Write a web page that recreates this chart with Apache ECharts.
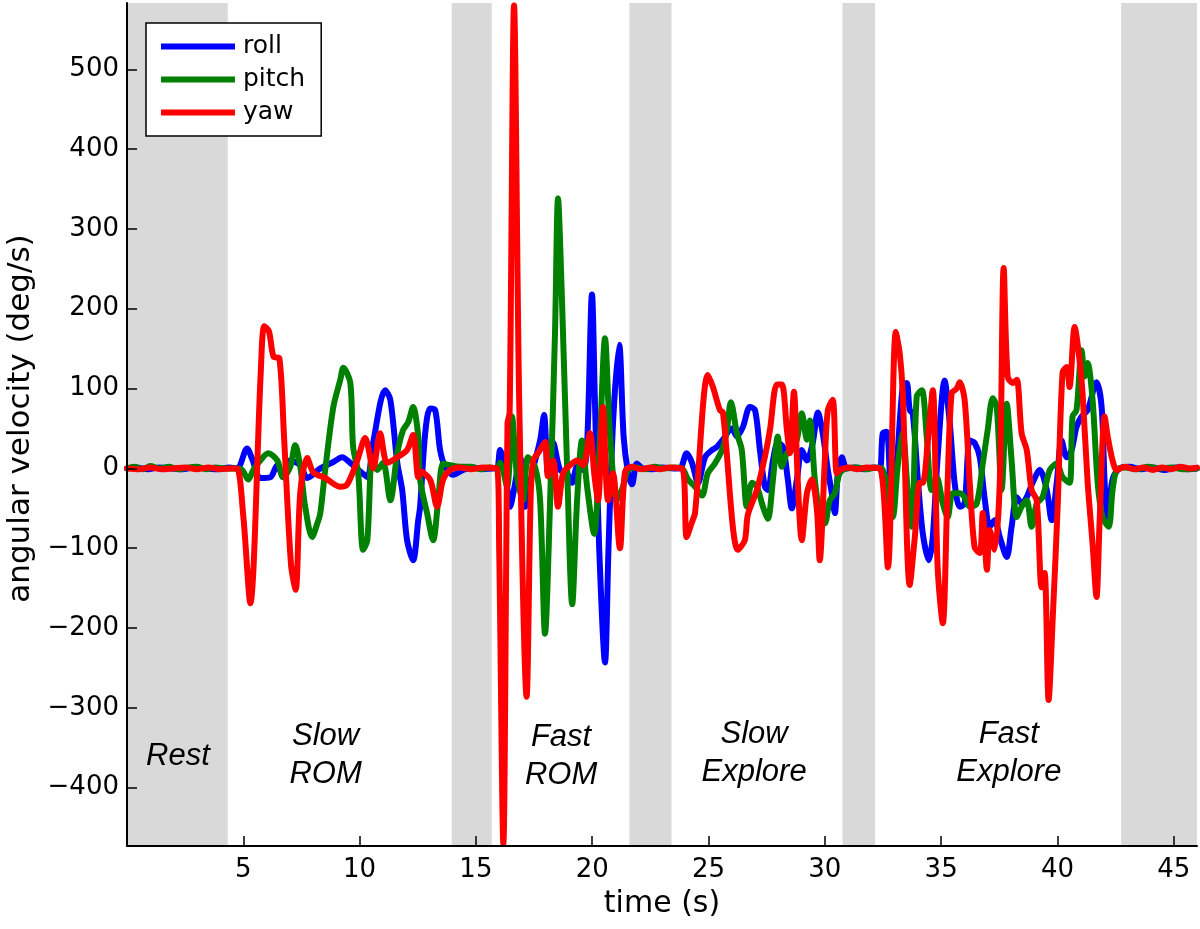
<!DOCTYPE html>
<html>
<head>
<meta charset="utf-8">
<script src="https://cdn.jsdelivr.net/npm/echarts@6/dist/echarts.min.js"></script>
<style>html,body{margin:0;padding:0;background:#fff;}#c{width:1200px;height:929px;}</style>
</head>
<body>
<div id="c"></div>
<script>
// ---- data ----
var seriesNames = ['roll', 'pitch', 'yaw'];
var xTicks = [5, 10, 15, 20, 25, 30, 35, 40, 45];
var yTicks = [-400, -300, -200, -100, 0, 100, 200, 300, 400, 500];
var restBands = [[0, 4.33], [13.96, 15.68], [21.6, 23.41], [30.76, 32.16], [42.74, 46]];
var phaseLabels = [
  [2.19, -361, 'Rest'],
  [8.54, -360, 'Slow\nROM'],
  [18.66, -361, 'Fast\nROM'],
  [26.96, -357, 'Slow\nExplore'],
  [37.91, -357, 'Fast\nExplore']
];

var roll = [
  [0,0],[0.4,1],[0.9,-1],[1.4,1],[1.9,0],[2.4,-1],[2.9,1],[3.4,0],[3.9,-1],[4.4,1],[4.74,0],
  [5.16,25],[5.39,11],[5.73,-12],[6.16,-11],[6.46,4],[6.72,-11],[7.02,10],[7.45,4],[7.75,-12],[8.31,0],
  [8.87,8],[9.25,14],[9.60,7],[10.03,-4],[10.33,-11],[10.58,32],[11.10,98],[11.32,86],[11.62,7],[11.83,-27],
  [12.04,-90],[12.30,-115],[12.52,-65],[12.60,-48],[12.82,44],[13.03,75],[13.25,73],[13.46,23],[13.68,2],
  [14.02,-8],[14.45,-2],[14.9,1],[15.3,-1],[15.74,0],
  [15.91,0],[16.04,23],[16.25,2],[16.47,-48],[16.66,-23],[16.90,14],[17.11,-48],[17.46,0],[17.76,35],[17.93,67],
  [18.10,-6],[18.32,32],[18.62,-2],[18.92,-6],[19.14,-18],[19.35,2],[19.61,-2],[19.78,30],[19.99,218],[20.12,80],
  [20.30,-100],[20.55,-243],[20.70,-100],[20.90,60],[21.16,155],[21.35,40],[21.54,-5],[21.71,-20],[21.92,6],[22.18,0],
  [22.6,-1],[23.0,1],[23.5,0],[23.77,0],
  [24.06,19],[24.29,7],[24.55,-18],[24.85,14],[25.15,23],[25.36,27],[25.62,36],[26.00,50],[26.22,40],[26.48,52],
  [26.78,77],[27.00,73],[27.21,23],[27.42,-23],[27.55,-27],[27.77,10],[27.98,32],[28.20,27],[28.41,-14],[28.58,-50],
  [28.80,-14],[29.01,23],[29.23,10],[29.48,32],[29.70,70],[29.91,44],[30.13,-2],[30.30,-31],[30.43,-56],[30.56,-6],
  [30.73,14],[30.94,0],[31.3,1],[31.7,-1],[32.1,1],[32.36,0],
  [32.49,44],[32.66,46],[32.88,-44],[33.09,6],[33.35,102],[33.52,107],[33.65,73],[33.78,69],[34.00,-14],[34.21,-81],
  [34.47,-115],[34.64,-86],[34.85,14],[35.15,110],[35.37,57],[35.58,-18],[35.80,-48],[36.01,-44],[36.23,35],[36.44,32],
  [36.66,14],[36.88,-40],[37.09,-73],[37.30,-65],[37.52,-86],[37.82,-111],[38.03,-73],[38.25,-36],[38.46,-44],[38.68,-36],
  [38.93,-18],[39.24,-2],[39.54,-27],[39.75,-65],[39.97,-18],[40.18,35],[40.40,14],[40.61,23],[40.82,52],[41.04,65],
  [41.30,73],[41.68,108],[41.90,77],[42.03,-18],[42.16,-61],[42.37,-14],[42.68,0],
  [43.1,2],[43.6,-1],[44.1,1],[44.6,-2],[45.1,1],[45.6,-1],[46,0]
];

var pitch = [
  [0,0],[0.3,2],[0.7,-1],[1.0,3],[1.4,0],[1.8,2],[2.2,-1],[2.6,1],[3.0,2],[3.4,-1],[3.8,1],[4.2,0],[4.74,0],
  [4.96,-2],[5.21,-14],[5.43,-2],[5.73,10],[6.07,19],[6.46,10],[6.72,-11],[7.02,2],[7.23,29],[7.45,2],[7.66,-48],
  [7.96,-86],[8.18,-69],[8.31,-56],[8.52,-2],[8.87,77],[9.17,111],[9.30,126],[9.60,107],[9.72,27],[9.94,-6],
  [10.15,-102],[10.33,-90],[10.54,14],[10.76,-2],[11.01,7],[11.32,-40],[11.62,19],[11.87,48],[12.09,58],[12.30,77],
  [12.52,40],[12.60,-14],[12.90,-56],[13.16,-90],[13.38,-40],[13.59,6],[13.89,4],[14.3,2],[14.75,2],[15.2,-1],
  [15.6,1],[15.91,0],
  [16.04,7],[16.34,-23],[16.55,65],[16.77,-11],[17.03,-40],[17.24,14],[17.54,2],[17.76,-40],[17.97,-207],[18.19,-40],
  [18.40,169],[18.53,338],[18.70,211],[18.92,2],[19.14,-170],[19.35,-40],[19.56,35],[19.78,-23],[20.08,-82],[20.34,44],
  [20.55,163],[20.76,44],[21.07,-40],[21.32,-23],[21.54,-2],[21.9,1],[22.3,-1],[22.7,2],[23.1,0],[23.5,1],[23.86,0],
  [24.12,-14],[24.42,-23],[24.72,-34],[24.97,-6],[25.27,6],[25.58,23],[25.79,48],[25.96,83],[26.22,44],[26.43,23],
  [26.65,-48],[26.87,-18],[27.08,-23],[27.34,-48],[27.55,-63],[27.77,-14],[27.98,40],[28.15,2],[28.37,19],[28.58,23],
  [28.80,36],[29.01,69],[29.23,36],[29.36,60],[29.57,-14],[29.78,-56],[30.00,-69],[30.21,-40],[30.43,-31],[30.64,-6],
  [30.94,0],[31.4,1],[31.8,-1],[32.2,1],[32.45,0],
  [32.66,-18],[32.92,-61],[33.13,2],[33.35,44],[33.56,-27],[33.74,-73],[33.95,90],[34.17,98],[34.38,40],[34.59,-27],
  [34.81,-11],[35.07,-44],[35.28,-61],[35.50,-31],[35.80,-31],[36.01,-36],[36.23,-48],[36.53,-44],[36.79,6],[37.00,48],
  [37.22,88],[37.39,77],[37.60,-27],[37.82,81],[38.03,10],[38.25,-61],[38.46,-48],[38.68,-40],[38.89,-73],[39.11,-44],
  [39.36,-36],[39.67,-2],[39.97,6],[40.22,-11],[40.52,-18],[40.65,65],[40.82,73],[41.04,148],[41.17,115],[41.30,132],
  [41.51,86],[41.73,-18],[41.94,-61],[42.20,-73],[42.37,-27],[42.55,-2],
  [42.9,1],[43.4,-1],[43.9,2],[44.4,0],[44.9,1],[45.4,-1],[46,0]
];

var yaw = [
  [0,0],[0.5,-1],[1.0,1],[1.5,-1],[2.0,0],[2.5,1],[3.0,-1],[3.5,1],[4.0,-1],[4.5,0],[4.73,0],
  [5.0,-60],[5.30,-169],[5.75,120],[5.90,178],[6.10,172],[6.30,140],[6.55,138],[6.75,40],[7.05,-120],[7.25,-152],
  [7.45,-30],[7.75,13],[8.01,-5],[8.52,-12],[9.17,-23],[9.47,-20],[9.90,10],[10.24,38],[10.58,0],[10.88,44],
  [11.19,7],[11.62,14],[12.04,23],[12.30,42],[12.52,-11],[12.60,-4],[13.03,-14],[13.33,-48],[13.59,-14],[13.89,-2],
  [14.3,1],[14.8,-1],[15.3,1],[15.91,0],
  [16.00,-100],[16.18,-470],[16.36,57],[16.45,70],[16.64,580],[16.86,86],[17.18,-286],[17.35,-40],[17.46,10],[17.67,19],
  [17.97,33],[18.10,-10],[18.32,10],[18.53,-48],[18.75,-6],[19.05,4],[19.35,10],[19.61,4],[19.90,44],[20.10,-10],
  [20.25,-40],[20.46,77],[20.68,-40],[20.89,-6],[21.19,-100],[21.41,-4],[21.7,2],[22.1,-1],[22.5,1],[22.9,-1],
  [23.3,1],[23.86,0],
  [24.06,-86],[24.29,-67],[24.42,-56],[24.97,117],[25.19,102],[25.49,73],[25.62,70],[26.26,-102],[26.56,-90],[26.69,-58],
  [27.08,-27],[27.42,14],[27.64,48],[27.94,105],[28.15,105],[28.37,48],[28.50,19],[28.67,96],[28.84,-18],[29.01,-90],
  [29.23,-31],[29.44,-14],[29.66,-52],[29.78,-115],[30.00,10],[30.13,73],[30.34,86],[30.51,-6],[30.64,-2],[31.0,1],
  [31.4,-1],[31.8,1],[32.36,0],
  [32.71,-124],[33.05,171],[33.22,144],[33.35,94],[33.65,-146],[33.87,-86],[34.08,-18],[34.21,-18],[34.42,31],[34.64,98],
  [34.85,-124],[35.07,-194],[35.28,-18],[35.45,94],[35.67,100],[35.80,108],[36.01,86],[36.23,-18],[36.44,-99],[36.66,-106],
  [36.79,-56],[36.97,-127],[37.09,-77],[37.30,-102],[37.52,-18],[37.69,251],[37.86,115],[38.08,107],[38.25,111],[38.46,44],
  [38.68,23],[38.89,-27],[39.11,-40],[39.32,-149],[39.45,-131],[39.62,-290],[39.80,-186],[40.01,-48],[40.22,120],[40.40,127],
  [40.52,102],[40.74,177],[40.95,136],[41.08,94],[41.30,-18],[41.51,-94],[41.68,-161],[41.81,-69],[42.03,65],[42.16,40],
  [42.37,10],[42.55,-2],[42.9,2],[43.3,-1],[43.7,1],[44.1,-2],[44.5,1],[44.9,-1],[45.3,2],[45.7,0],[46,1]
];

var seriesColors = ['#0000ff', '#008000', '#ff0000'];

// ---- chart ----
var chart = echarts.init(document.getElementById('c'), null, { renderer: 'canvas' });
var tickFont = { fontFamily: 'DejaVu Sans', fontSize: 26, color: '#000' };
function fmtMinus(v) { return v < 0 ? '\u2212' + Math.abs(v) : String(v); }

var lineData = [roll, pitch, yaw];
var series = lineData.map(function (d, i) {
  var s = {
    name: seriesNames[i],
    type: 'line',
    data: d,
    showSymbol: false,
    symbol: 'none',
    smooth: 0.3,
    clip: true,
    z: 2 + i * 0.1,
    lineStyle: { color: seriesColors[i], width: 6, join: 'round', cap: 'round' },
    itemStyle: { color: seriesColors[i] },
    emphasis: { disabled: true },
    silent: true
  };
  if (i === 0) {
    s.markArea = {
      silent: true,
      z: 1,
      itemStyle: { color: '#d9d9d9', opacity: 1 },
      label: { show: false },
      data: restBands.map(function (b) { return [{ xAxis: b[0] }, { xAxis: b[1] }]; })
    };
  }
  return s;
});

series.push({
  type: 'scatter',
  name: 'phases',
  data: phaseLabels,
  symbolSize: 0,
  silent: true,
  z: 6,
  itemStyle: { opacity: 1 },
  label: {
    show: true,
    position: 'inside',
    formatter: function (p) { return p.value[2]; },
    fontFamily: 'Liberation Sans',
    fontStyle: 'italic',
    fontSize: 31,
    lineHeight: 38,
    color: '#000',
    opacity: 1,
    align: 'center',
    verticalAlign: 'middle'
  }
});

var option = {
  animation: false,
  backgroundColor: '#fff',
  grid: { left: 127, right: 3, top: 3, bottom: 83, containLabel: false, outerBoundsMode: 'none' },
  legend: {
    data: seriesNames,
    orient: 'vertical',
    left: 146,
    top: 23,
    backgroundColor: '#fff',
    borderColor: '#000',
    borderWidth: 1.5,
    borderRadius: 0,
    padding: [11, 16, 11, 15],
    itemWidth: 74,
    itemHeight: 6,
    itemGap: 8,
    icon: 'rect',
    selectedMode: false,
    textStyle: { fontFamily: 'DejaVu Sans', fontSize: 25, color: '#000', padding: [0, 0, 0, 3] }
  },
  xAxis: {
    type: 'value',
    min: 0,
    max: 46,
    z: 5,
    name: 'time (s)',
    nameLocation: 'middle',
    nameGap: 43,
    nameTextStyle: { fontFamily: 'DejaVu Sans', fontSize: 30, color: '#000' },
    axisLine: { show: true, onZero: false, lineStyle: { color: '#000', width: 2 } },
    axisTick: { show: true, inside: true, length: 10, customValues: xTicks, lineStyle: { color: '#000', width: 1.5 } },
    axisLabel: Object.assign({ show: true, margin: 11, customValues: xTicks, formatter: fmtMinus }, tickFont),
    splitLine: { show: false }
  },
  yAxis: {
    type: 'value',
    min: -473,
    max: 583,
    z: 5,
    name: 'angular velocity (deg/s)',
    nameLocation: 'middle',
    nameGap: 80,
    nameRotate: 90,
    nameTextStyle: { fontFamily: 'DejaVu Sans', fontSize: 31, color: '#000', padding: [0, 0, 0, 12] },
    axisLine: { show: true, onZero: false, lineStyle: { color: '#000', width: 2 } },
    axisTick: { show: true, inside: true, length: 10, customValues: yTicks, lineStyle: { color: '#000', width: 1.5 } },
    axisLabel: Object.assign({ show: true, margin: 8, customValues: yTicks, formatter: fmtMinus }, tickFont),
    splitLine: { show: false }
  },
  series: series
};
chart.setOption(option);
</script>
</body>
</html>
